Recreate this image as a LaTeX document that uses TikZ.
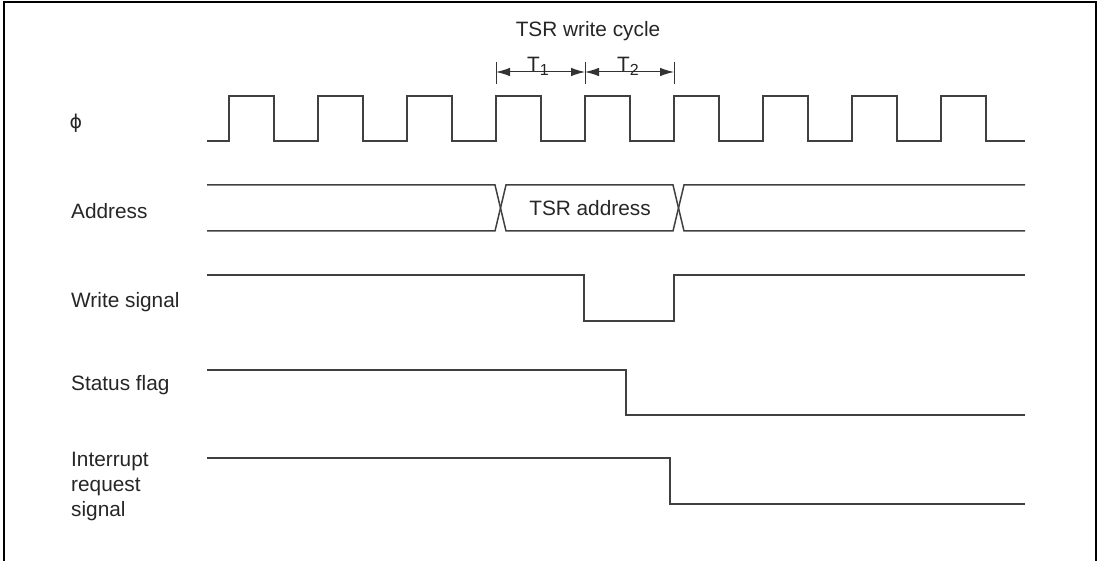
\documentclass[tikz,border=0pt]{standalone}
\usepackage{fontspec}
\setmainfont{Liberation Sans}
\newfontfamily\phifont{DejaVu Sans}
\usetikzlibrary{arrows.meta}

\begin{document}
\begin{tikzpicture}[x=1pt, y=-1pt,
    every node/.style={font=\fontsize{20.8}{25}\selectfont, text=black!85,
        inner sep=0pt},
    wave/.style={line width=1.5pt, draw=black!75, line join=miter},
    signame/.style={anchor=base west, align=left},
    tick/.style={line width=1pt, draw=black!80},
    dim/.style={{Latex[length=14pt,width=8.5pt]}-{Latex[length=14pt,width=8.5pt]},
        line width=1pt, draw=black!80},
]
    \useasboundingbox (0,0) rectangle (1100,561);
    %% the frame, open at the bottom
    \draw[line width=2.5pt] (4,561) -- (4,2) -- (1096,2) -- (1096,561);

    %% signal names
    \node (phi) at (76,123) {\phifont\fontsize{19}{22}\selectfont ϕ};
    \node[signame] (addr) at (71,219) {Address};
    \node[signame] (wr) at (71,307) {Write signal};
    \node[signame] (flag) at (71,390) {Status flag};
    \node[signame] (irq) at (71,516) {Interrupt\\request\\signal};

    %% the clock
    \draw[wave] (207,141) foreach \x in {229,318,...,941}{
            -- (\x,141) -- (\x,96) -- ({\x+45},96) -- ({\x+45},141)}
        -- (1025,141);

    %% T1 and T2 of the write cycle
    \foreach \name/\x in {ta/496, tb/585, tc/674}{
        \coordinate (\name) at (\x,72);
        \draw[tick] (\x,62) -- (\x,84);
    }
    \draw[dim] (ta) -- (tb);
    \draw[dim] (tb) -- (tc);
    \node[anchor=base] (tone) at (538,72)
        {T\raisebox{-4pt}{\fontsize{16}{18}\selectfont 1}};
    \node[anchor=base] (ttwo) at (628,72)
        {T\raisebox{-4pt}{\fontsize{16}{18}\selectfont 2}};
    \node[anchor=base] (cycle) at (588,37) {TSR write cycle};

    %% address bus
    \draw[wave] (207,185) -- (495,185) -- (506,231) -- (673,231)
        -- (684,185) -- (1025,185);
    \draw[wave] (207,231) -- (495,231) -- (506,185) -- (673,185)
        -- (684,231) -- (1025,231);
    \node (tsr) at (590,208) {TSR address};

    %% write signal, status flag, interrupt request
    \draw[wave] (207,275) -- (584,275) -- (584,321) -- (674,321)
        -- (674,275) -- (1025,275);
    \draw[wave] (207,370) -- (626,370) -- (626,415) -- (1025,415);
    \draw[wave] (207,458) -- (670,458) -- (670,504) -- (1025,504);
\end{tikzpicture}
\end{document}
